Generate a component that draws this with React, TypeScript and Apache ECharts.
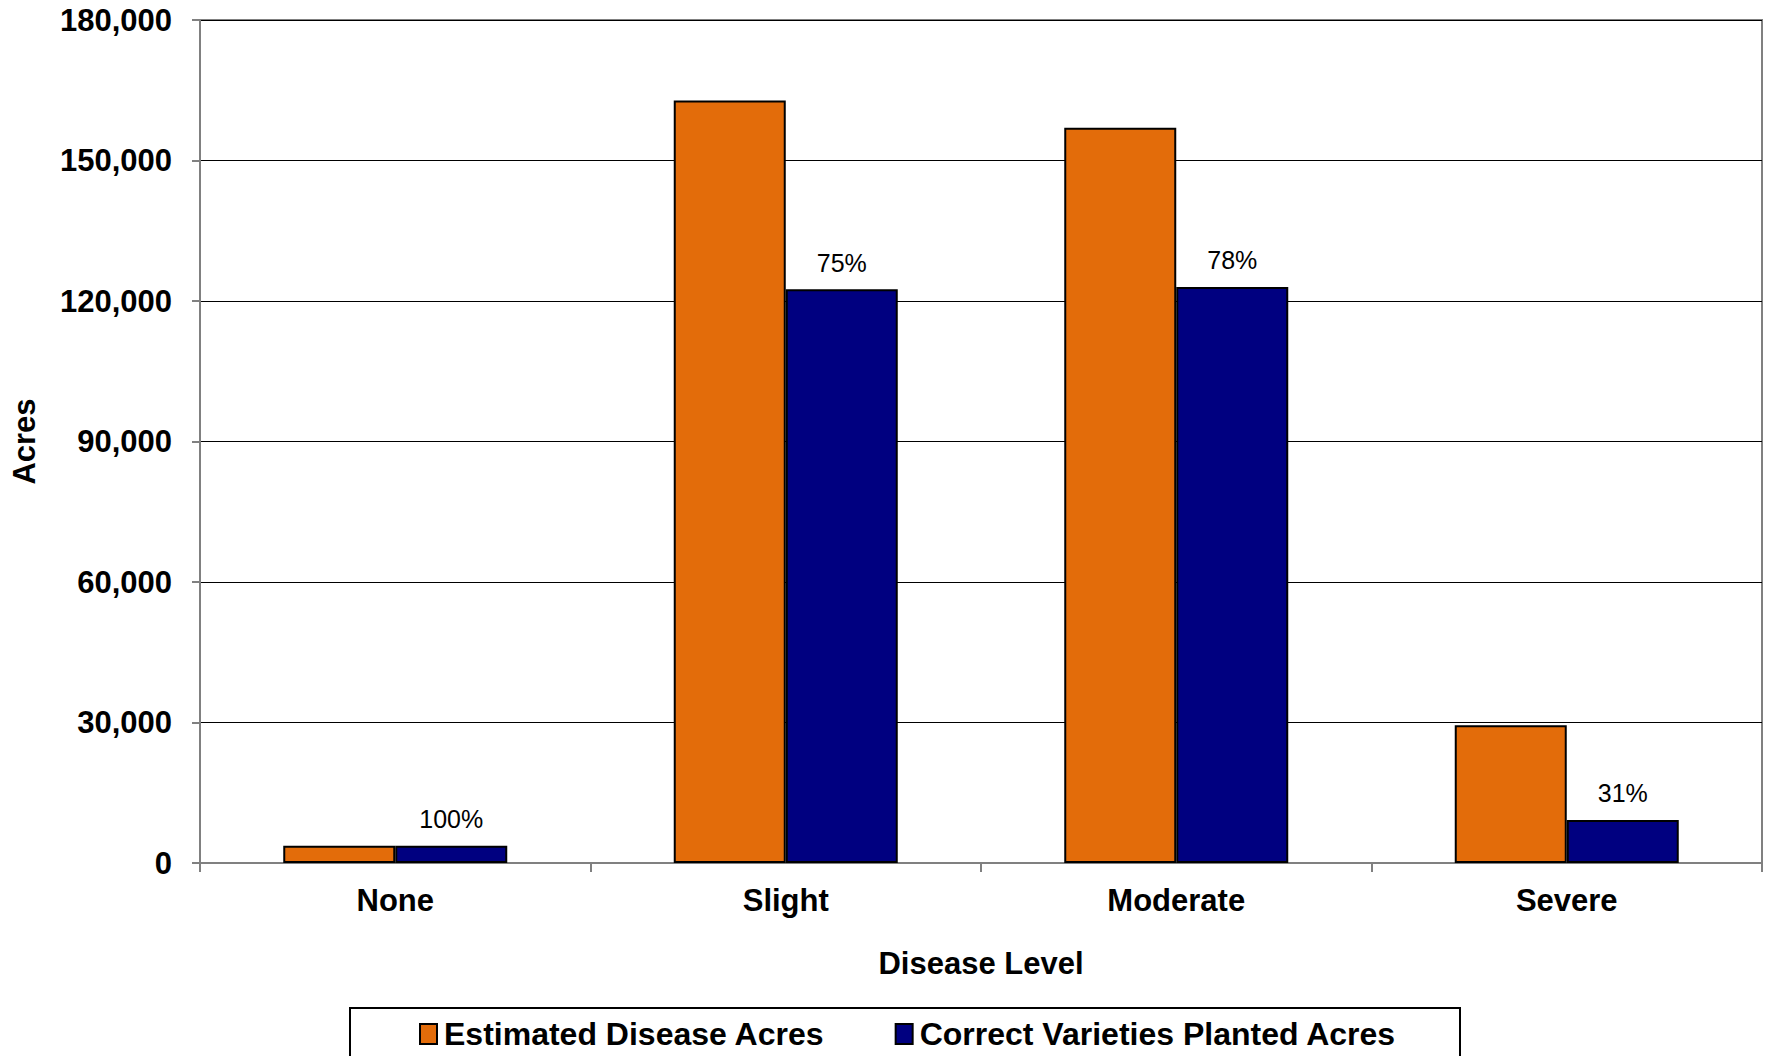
import React, { useEffect, useRef } from "react";
import * as echarts from "echarts";

// Acres by disease level
const categories = ["None", "Slight", "Moderate", "Severe"];
const estimatedDiseaseAcres = [3700, 162800, 157000, 29400];
const correctVarietiesAcres = [3700, 122500, 123000, 9200];
const seriesNames = ["Estimated Disease Acres", "Correct Varieties Planted Acres"];

const FONT = "'Liberation Sans', Arial, Helvetica, sans-serif";
const ORANGE = "#E36C0A";
const NAVY = "#000080";
const FRAME = "#808080";

export default function App() {
  const ref = useRef<HTMLDivElement>(null);

  useEffect(() => {
    document.body.style.margin = "0";
    if (!ref.current) return;
    const chart = echarts.init(ref.current, undefined, { renderer: "svg" });

    const share = correctVarietiesAcres.map((v, i) =>
      Math.round((v / estimatedDiseaseAcres[i]) * 100)
    );

    chart.setOption({
      animation: false,
      backgroundColor: "#ffffff",
      textStyle: { fontFamily: FONT },
      grid: {
        left: 200,
        right: 9,
        top: 20,
        bottom: 193,
        show: true,
        borderColor: FRAME,
        borderWidth: 2,
        containLabel: false,
      },
      legend: {
        data: seriesNames,
        left: 419,
        top: 1018,
        padding: 0,
        itemGap: 70,
        itemWidth: 17,
        itemHeight: 20,
        icon: "rect",
        itemStyle: { borderColor: "#000", borderWidth: 2 },
        textStyle: {
          fontFamily: FONT,
          fontSize: 32,
          fontWeight: "bold",
          color: "#000",
          padding: [0, 0, 0, 2],
        },
      },
      graphic: [
        {
          type: "rect",
          z: -1,
          shape: { x: 350, y: 1008, width: 1110, height: 70 },
          style: { fill: "#fff", stroke: "#000", lineWidth: 2 },
        },
      ],
      xAxis: {
        type: "category",
        data: categories,
        boundaryGap: true,
        axisLine: { show: true, lineStyle: { color: FRAME, width: 2 } },
        axisTick: { show: true, alignWithLabel: false, length: 9, lineStyle: { color: FRAME, width: 2 } },
        axisLabel: {
          margin: 22,
          fontFamily: FONT,
          fontSize: 31,
          fontWeight: "bold",
          color: "#000",
        },
        name: "Disease Level",
        nameLocation: "middle",
        nameGap: 85,
        nameTextStyle: { fontFamily: FONT, fontSize: 31, fontWeight: "bold", color: "#000" },
      },
      yAxis: {
        type: "value",
        min: 0,
        max: 180000,
        interval: 30000,
        axisLine: { show: true, lineStyle: { color: FRAME, width: 2 } },
        axisTick: { show: true, inside: false, length: 8, lineStyle: { color: FRAME, width: 2 } },
        axisLabel: {
          margin: 28,
          fontFamily: FONT,
          fontSize: 31,
          fontWeight: "bold",
          color: "#000",
          formatter: (v: number) => v.toLocaleString("en-US"),
        },
        splitLine: { show: true, lineStyle: { color: "#000", width: 1 } },
        name: "Acres",
        nameLocation: "middle",
        nameGap: 160,
        nameRotate: 90,
        nameTextStyle: { fontFamily: FONT, fontSize: 31, fontWeight: "bold", color: "#000" },
      },
      series: [
        {
          name: seriesNames[0],
          type: "bar",
          data: estimatedDiseaseAcres,
          barWidth: 112,
          barGap: "0%",
          itemStyle: { color: ORANGE, borderColor: "#000", borderWidth: 2 },
        },
        {
          name: seriesNames[1],
          type: "bar",
          data: correctVarietiesAcres,
          barWidth: 112,
          barGap: "0%",
          itemStyle: { color: NAVY, borderColor: "#000", borderWidth: 2 },
          label: {
            show: true,
            position: "top",
            distance: 14,
            fontFamily: FONT,
            fontSize: 25,
            color: "#000",
            formatter: (p: any) => `${share[p.dataIndex]}%`,
          },
        },
      ],
    });

    return () => chart.dispose();
  }, []);

  return <div ref={ref} style={{ width: 1771, height: 1056 }} />;
}
